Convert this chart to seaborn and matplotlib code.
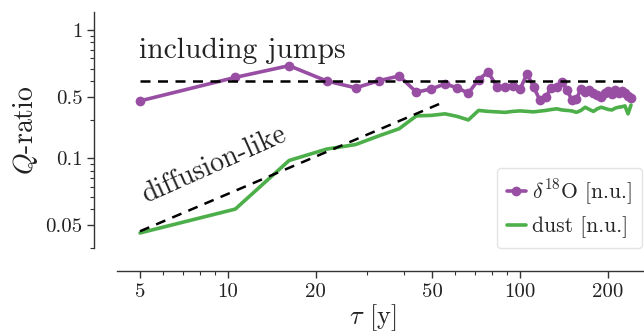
import numpy as np
import pandas as pd
import matplotlib
matplotlib.use("Agg")
import matplotlib.pyplot as plt
import seaborn as sns

# ---- data ----
tau = [5, 10.6, 16.2, 21.8, 27.4, 33, 38.6, 44.2, 49.8, 55.4, 61, 66.6, 72.2, 77.8,
       83.4, 89, 94.6, 100.2, 105.8, 111.4, 117, 122.6, 128.2, 133.8, 139.4, 145,
       150.6, 156.2, 161.8, 167.4, 173, 178.6, 184.2, 189.8, 195.4, 201, 206.6,
       212.2, 217.8, 223.4, 229, 234.6, 240.2]
d18o = [0.280, 0.427, 0.527, 0.400, 0.354, 0.403, 0.438, 0.328, 0.347, 0.380, 0.354,
        0.322, 0.410, 0.471, 0.362, 0.362, 0.367, 0.347, 0.455, 0.360, 0.285, 0.301,
        0.354, 0.362, 0.394, 0.341, 0.285, 0.290, 0.347, 0.329, 0.341, 0.323, 0.312,
        0.301, 0.323, 0.335, 0.318, 0.341, 0.323, 0.335, 0.323, 0.306, 0.296]
dust = [0.0262, 0.0402, 0.0961, 0.118, 0.128, 0.150, 0.170, 0.214, 0.216, 0.222, 0.212,
        0.199, 0.236, 0.232, 0.230, 0.228, 0.232, 0.234, 0.232, 0.230, 0.233, 0.236,
        0.240, 0.243, 0.238, 0.236, 0.234, 0.228, 0.236, 0.250, 0.240, 0.232, 0.243,
        0.250, 0.245, 0.240, 0.238, 0.246, 0.250, 0.252, 0.256, 0.222, 0.260]
jump_x = [5, 235]
jump_y = [0.4, 0.4]
diff_x = [5, 55]
diff_y = [0.027, 0.275]
ytick_vals = [1, 0.3, 0.1, 0.03]
ytick_labels = ["1", "0.5", "0.1", "0.05"]
xtick_vals = [5, 10, 20, 50, 100, 200]
xtick_labels = ["5", "10", "20", "50", "100", "200"]

purple = "#984ea3"
green = "#4daf4a"

sns.set_style("ticks")
plt.rcParams["font.family"] = "serif"
plt.rcParams["font.serif"] = ["cmr10", "DejaVu Serif"]
plt.rcParams["mathtext.fontset"] = "cm"
plt.rcParams["axes.formatter.use_mathtext"] = True
plt.rcParams["axes.unicode_minus"] = False

fig = plt.figure(figsize=(6.44, 3.32), dpi=100)
ax = fig.add_axes([117 / 644, 1 - 248 / 332, (650 - 117) / 644, (248 - 12) / 332])

df = pd.DataFrame({"tau": tau, "d18o": d18o, "dust": dust})
sns.lineplot(data=df, x="tau", y="d18o", ax=ax, color=purple, linewidth=2.6,
             marker="o", markersize=7, markeredgewidth=0, label=r"$\delta^{18}$O [n.u.]")
sns.lineplot(data=df, x="tau", y="dust", ax=ax, color=green, linewidth=2.6,
             label="dust [n.u.]")
ax.plot(jump_x, jump_y, color="black", linestyle="--", linewidth=1.8, dashes=(4, 3))
ax.plot(diff_x, diff_y, color="black", linestyle="--", linewidth=1.8, dashes=(4, 3))

ax.set_xscale("log")
ax.set_yscale("log")
ax.set_xlim(4.17, 279)
ax.set_ylim(0.02, 1.38)
ax.set_xticks(xtick_vals)
ax.set_xticklabels(xtick_labels)
ax.set_yticks(ytick_vals)
ax.set_yticklabels(ytick_labels)
ax.tick_params(axis="both", which="major", labelsize=15, length=5, width=1, colors="#333333",
               labelcolor="#222222")
ax.tick_params(axis="both", which="minor", length=3, width=0.8, colors="#333333")
for s in ax.spines.values():
    s.set_color("#333333")
    s.set_linewidth(1.0)

ax.set_xlabel(r"$\tau$ [y]", fontsize=19, color="#222222", labelpad=1)
ax.xaxis.label.set_x(0.48)
ax.set_ylabel(r"$Q$-ratio", fontsize=20, color="#222222", labelpad=4)

ax.text(4.95, 0.6, "including jumps", fontsize=21.3, ha="left", va="baseline", color="#222222")
ax.text(5.25, 0.045, "diffusion-like", fontsize=20, ha="left", va="baseline",
        rotation=24, rotation_mode="anchor", color="#222222")

leg = ax.legend(loc="lower right", bbox_to_anchor=(642 / 644, 1 - 248 / 332),
                bbox_transform=fig.transFigure, borderaxespad=0, fontsize=15.5,
                handlelength=0.9, handletextpad=0.3, borderpad=0.45, labelspacing=0.45,
                frameon=True)
leg.get_frame().set_edgecolor("#dddddd")
leg.get_frame().set_linewidth(1.0)

sns.despine(ax=ax, offset=16.5)

fig.savefig("out.png", dpi=100)
